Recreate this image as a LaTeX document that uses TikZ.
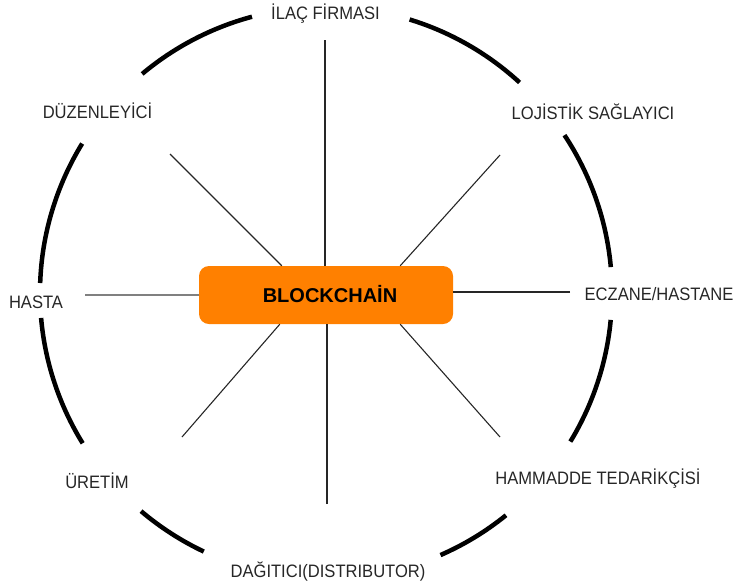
\documentclass[tikz,border=0pt]{standalone}
\usepackage{graphicx}
\usepackage{fontspec}
\setmainfont{Liberation Sans}
\usetikzlibrary{calc}
\definecolor{bcorange}{HTML}{FF8000}
\newcommand{\narrowtxt}[1]{\scalebox{0.92}[1]{#1}}
\begin{document}
\begin{tikzpicture}[x=1pt,y=-1pt,
  ring/.style={line width=4.5pt,black},
  spoke/.style={line width=1.1pt,black!85},
  lbl/.style={anchor=base,inner sep=0pt,font=\fontsize{18}{20}\selectfont,text=black!85},
  hub/.style={rectangle,rounded corners=10pt,fill=bcorange,minimum width=254pt,minimum height=58pt,inner sep=0pt}]
\useasboundingbox (0,0) rectangle (733,587);
\coordinate (C) at (326,293);
% ring arcs (visual angles a1 -> a2)
\foreach \a/\b in {5.2/33.5,47.4/73,105/130,148.5/178,185/211.7,229.7/244.7,293.6/309,328.7/354.6}
  \draw[ring] ([shift={(-\a:286)}]C) arc[start angle=-\a,end angle=-\b,radius=286];
% hub
\node[hub] (bc) at (326,295) {};
\node[anchor=base,inner sep=0pt,font=\fontsize{20}{24}\selectfont\bfseries] (bct) at (330,302) {BLOCKCHA\.{I}N};
% spoke ends
\coordinate (tT) at (325,40);
\coordinate (tB) at (327,504);
\coordinate (tUL) at (170,154);
\coordinate (tUR) at (500,155);
\coordinate (tLR) at (500,437);
\coordinate (tLL) at (182,437);
\coordinate (tL) at (85,295);
\coordinate (tR) at (570,292);
\draw[spoke] (tT) -- ($(bc.north)+(-1,0)$);
\draw[spoke] (tB) -- ($(bc.south)+(1,0)$);
\draw[spoke] (tUL) -- ($(bc.north west)+(83,0)$);
\draw[spoke] (tUR) -- ($(bc.north east)+(-53,0)$);
\draw[spoke] (tLR) -- ($(bc.south east)+(-53,0)$);
\draw[spoke] (tLL) -- ($(bc.south west)+(81,0)$);
\draw[spoke,black!50] (tL) -- (bc.west);
\draw[spoke] (tR) -- ($(bc.east)+(0,-3)$);
% labels
\node[lbl] (n1) at (325.5,19.5) {\narrowtxt{\.{I}LAÇ F\.{I}RMASI}};
\node[lbl] (n2) at (97.5,118.3) {\narrowtxt{DÜZENLEY\.{I}C\.{I}}};
\node[lbl] (n3) at (593,119) {\narrowtxt{LOJ\.{I}ST\.{I}K SAĞLAYICI}};
\node[lbl] (n4) at (36,308) {\narrowtxt{HASTA}};
\node[lbl] (n5) at (659,300) {\narrowtxt{ECZANE/HASTANE}};
\node[lbl] (n6) at (598,484) {\narrowtxt{HAMMADDE TEDAR\.{I}KÇ\.{I}S\.{I}}};
\node[lbl] (n7) at (97,488) {\narrowtxt{ÜRET\.{I}M}};
\node[lbl] (n8) at (328,577) {\narrowtxt{DAĞITICI(DISTRIBUTOR)}};
\end{tikzpicture}
\end{document}
